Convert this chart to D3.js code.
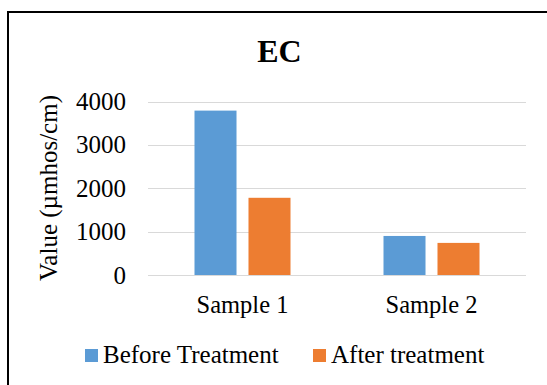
<!DOCTYPE html>
<html>
<head>
<meta charset="utf-8">
<script src="https://cdn.jsdelivr.net/npm/d3@7/dist/d3.min.js"></script>
<style>
  html, body { margin: 0; padding: 0; background: #fff; }
  svg { display: block; }
  text { font-family: "Liberation Serif", "Times New Roman", serif; fill: #000; }
</style>
</head>
<body>
<svg id="chart" width="547" height="385"></svg>
<script>
// EC measurements per sample, before and after treatment
const categories = ["Sample 1", "Sample 2"];
const seriesNames = ["Before Treatment", "After treatment"];
const beforeValues = [3790, 900];
const afterValues = [1780, 740];
const yTicks = [0, 1000, 2000, 3000, 4000];
const seriesColors = ["#5B9BD5", "#ED7D31"];

const svg = d3.select("#chart");
const serif = '"Liberation Serif", "Times New Roman", serif';

// Frame
svg.append("rect")
  .attr("x", 8).attr("y", 12)
  .attr("width", 600).attr("height", 420)
  .attr("fill", "#fff")
  .attr("stroke", "#000")
  .attr("stroke-width", 2);

const plot = { left: 148, right: 526, top: 101.5, bottom: 275 };

const x0 = d3.scaleBand().domain(categories).range([plot.left, plot.right]).padding(0);
const bw = x0.bandwidth();
const x1 = d3.scaleBand().domain(seriesNames)
  .range([bw / 2 - 48, bw / 2 + 48]).paddingInner(0.222).paddingOuter(0);
const y = d3.scaleLinear().domain([0, 4000]).range([plot.bottom, plot.top]);

// Gridlines
svg.append("g").selectAll("line").data(yTicks).join("line")
  .attr("x1", plot.left).attr("x2", plot.right)
  .attr("y1", d => Math.round(y(d)) + 0.5).attr("y2", d => Math.round(y(d)) + 0.5)
  .attr("stroke", "#D9D9D9").attr("stroke-width", 1.2);

// Y axis tick labels
const yAxis = d3.axisLeft(y).tickValues(yTicks).tickSize(0).tickPadding(0).tickFormat(d3.format("d"));
const yg = svg.append("g").attr("transform", `translate(126,0)`).call(yAxis);
yg.select(".domain").remove();
yg.selectAll("text").style("font-size", "25px").attr("fill", "#000")
  .style("font-family", serif);

// Bars
const rows = categories.map((c, i) => ({ cat: c, vals: [beforeValues[i], afterValues[i]] }));
const groups = svg.append("g").selectAll("g").data(rows).join("g")
  .attr("transform", d => `translate(${x0(d.cat)},0)`);
groups.selectAll("rect")
  .data(d => d.vals.map((v, j) => ({ s: seriesNames[j], v, j })))
  .join("rect")
  .attr("x", d => x1(d.s))
  .attr("width", x1.bandwidth())
  .attr("y", d => y(d.v))
  .attr("height", d => y(0) - y(d.v))
  .attr("fill", d => seriesColors[d.j]);

// Category labels
const xAxis = d3.axisBottom(x0).tickSize(0).tickPadding(0);
const xg = svg.append("g").attr("transform", `translate(0,${plot.bottom})`).call(xAxis);
xg.select(".domain").remove();
xg.selectAll("text").attr("dy", null).attr("y", 38)
  .style("font-size", "24.5px").attr("fill", "#000")
  .style("font-family", serif);

// Title
svg.append("text").attr("x", 279.5).attr("y", 62)
  .attr("text-anchor", "middle")
  .style("font-size", "32px").style("font-weight", "bold")
  .text("EC");

// Y axis title
svg.append("text")
  .attr("transform", "translate(57,188) rotate(-90)")
  .attr("text-anchor", "middle")
  .style("font-size", "25px")
  .text("Value (µmhos/cm)");

// Legend
const legendX = [85, 313];
const legend = svg.append("g").selectAll("g").data(seriesNames).join("g")
  .attr("transform", (d, i) => `translate(${legendX[i]},349)`);
legend.append("rect").attr("width", 13).attr("height", 13)
  .attr("fill", (d, i) => seriesColors[i]);
legend.append("text").attr("x", 18).attr("y", 14)
  .style("font-size", "25px").text(d => d);
</script>
</body>
</html>
